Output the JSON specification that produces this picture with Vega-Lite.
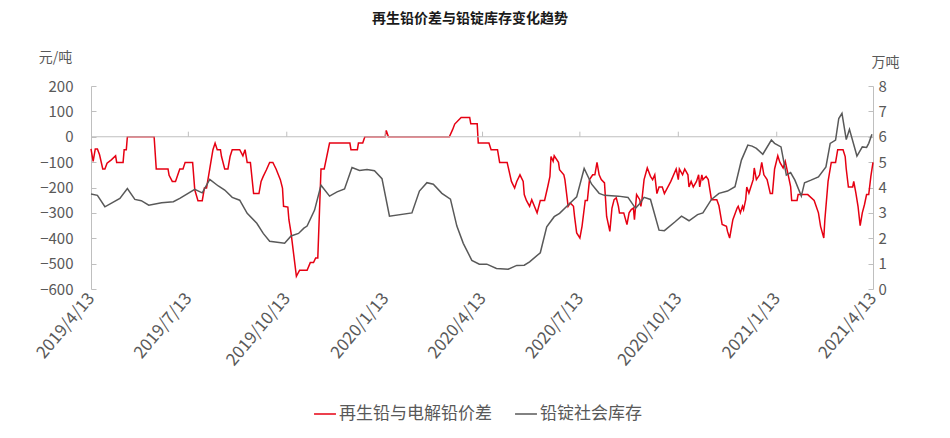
{
  "$schema": "https://vega.github.io/schema/vega-lite/v6.json",
  "autosize": "none",
  "width": 782,
  "height": 203,
  "padding": {"left": 91, "top": 86, "right": 77, "bottom": 149},
  "background": "white",
  "config": {
    "font": "Noto Sans CJK SC",
    "view": {"stroke": null},
    "axis": {"labelColor": "#595959", "titleColor": "#595959", "labelFont": "Noto Sans CJK SC", "titleFont": "Noto Sans CJK SC", "grid": false},
    "axisY": {"labelOverlap": false}
  },
  "title": {"text": "再生铅价差与铅锭库存变化趋势", "anchor": "middle", "fontSize": 14, "fontWeight": "bold", "color": "#1a1a1a", "offset": 24, "dx": -12},
  "datasets": {
    "spread": [
      {"date": "2019/4/13", "value": -48}, {"date": "2019/4/15", "value": -97}, {"date": "2019/4/17", "value": -48}, {"date": "2019/4/19", "value": -48},
      {"date": "2019/4/21", "value": -71}, {"date": "2019/4/24", "value": -127}, {"date": "2019/4/26", "value": -127}, {"date": "2019/4/28", "value": -104},
      {"date": "2019/5/2", "value": -91}, {"date": "2019/5/6", "value": -75}, {"date": "2019/5/7", "value": -101}, {"date": "2019/5/13", "value": -101},
      {"date": "2019/5/14", "value": -51}, {"date": "2019/5/16", "value": -51}, {"date": "2019/5/17", "value": 0}, {"date": "2019/6/11", "value": 0},
      {"date": "2019/6/13", "value": -127}, {"date": "2019/6/24", "value": -127}, {"date": "2019/6/25", "value": -152}, {"date": "2019/6/28", "value": -176},
      {"date": "2019/7/1", "value": -176}, {"date": "2019/7/3", "value": -152}, {"date": "2019/7/5", "value": -127}, {"date": "2019/7/8", "value": -127},
      {"date": "2019/7/10", "value": -101}, {"date": "2019/7/17", "value": -101}, {"date": "2019/7/19", "value": -209}, {"date": "2019/7/22", "value": -252},
      {"date": "2019/7/26", "value": -252}, {"date": "2019/7/28", "value": -202}, {"date": "2019/7/30", "value": -202}, {"date": "2019/8/2", "value": -127},
      {"date": "2019/8/3", "value": -101}, {"date": "2019/8/5", "value": -51}, {"date": "2019/8/7", "value": -25}, {"date": "2019/8/9", "value": -51},
      {"date": "2019/8/12", "value": -51}, {"date": "2019/8/13", "value": -78}, {"date": "2019/8/16", "value": -127}, {"date": "2019/8/19", "value": -127},
      {"date": "2019/8/21", "value": -78}, {"date": "2019/8/23", "value": -51}, {"date": "2019/8/30", "value": -51}, {"date": "2019/9/2", "value": -75},
      {"date": "2019/9/4", "value": -51}, {"date": "2019/9/6", "value": -101}, {"date": "2019/9/9", "value": -101}, {"date": "2019/9/12", "value": -224},
      {"date": "2019/9/17", "value": -224}, {"date": "2019/9/19", "value": -176}, {"date": "2019/9/21", "value": -156}, {"date": "2019/9/24", "value": -130},
      {"date": "2019/9/27", "value": -101}, {"date": "2019/9/30", "value": -101}, {"date": "2019/10/3", "value": -127}, {"date": "2019/10/7", "value": -169},
      {"date": "2019/10/9", "value": -202}, {"date": "2019/10/10", "value": -274}, {"date": "2019/10/14", "value": -277}, {"date": "2019/10/15", "value": -327},
      {"date": "2019/10/17", "value": -379}, {"date": "2019/10/22", "value": -550}, {"date": "2019/10/25", "value": -526}, {"date": "2019/11/1", "value": -526},
      {"date": "2019/11/4", "value": -496}, {"date": "2019/11/7", "value": -496}, {"date": "2019/11/9", "value": -478}, {"date": "2019/11/11", "value": -478},
      {"date": "2019/11/14", "value": -127}, {"date": "2019/11/17", "value": -127}, {"date": "2019/11/22", "value": -25}, {"date": "2019/12/11", "value": -25},
      {"date": "2019/12/12", "value": -51}, {"date": "2019/12/18", "value": -51}, {"date": "2019/12/19", "value": -25}, {"date": "2019/12/23", "value": -25},
      {"date": "2019/12/25", "value": 0}, {"date": "2020/1/13", "value": 0}, {"date": "2020/1/14", "value": 25}, {"date": "2020/1/16", "value": 0},
      {"date": "2020/3/13", "value": 0}, {"date": "2020/3/16", "value": 28}, {"date": "2020/3/18", "value": 50}, {"date": "2020/3/24", "value": 76},
      {"date": "2020/4/1", "value": 76}, {"date": "2020/4/2", "value": 51}, {"date": "2020/4/8", "value": 51}, {"date": "2020/4/9", "value": -25},
      {"date": "2020/4/19", "value": -25}, {"date": "2020/4/21", "value": -51}, {"date": "2020/4/27", "value": -51}, {"date": "2020/4/29", "value": -101},
      {"date": "2020/5/6", "value": -101}, {"date": "2020/5/10", "value": -176}, {"date": "2020/5/13", "value": -202}, {"date": "2020/5/15", "value": -176},
      {"date": "2020/5/18", "value": -150}, {"date": "2020/5/21", "value": -176}, {"date": "2020/5/22", "value": -228}, {"date": "2020/5/24", "value": -251},
      {"date": "2020/5/27", "value": -274}, {"date": "2020/5/29", "value": -248}, {"date": "2020/6/3", "value": -300}, {"date": "2020/6/6", "value": -251},
      {"date": "2020/6/10", "value": -251}, {"date": "2020/6/13", "value": -196}, {"date": "2020/6/15", "value": -156}, {"date": "2020/6/16", "value": -78},
      {"date": "2020/6/18", "value": -97}, {"date": "2020/6/19", "value": -75}, {"date": "2020/6/23", "value": -101}, {"date": "2020/6/24", "value": -130},
      {"date": "2020/6/28", "value": -150}, {"date": "2020/6/29", "value": -169}, {"date": "2020/7/2", "value": -274}, {"date": "2020/7/4", "value": -261},
      {"date": "2020/7/7", "value": -274}, {"date": "2020/7/8", "value": -314}, {"date": "2020/7/10", "value": -379}, {"date": "2020/7/13", "value": -399},
      {"date": "2020/7/15", "value": -353}, {"date": "2020/7/18", "value": -251}, {"date": "2020/7/20", "value": -251}, {"date": "2020/7/22", "value": -169},
      {"date": "2020/7/25", "value": -150}, {"date": "2020/7/27", "value": -150}, {"date": "2020/7/29", "value": -101}, {"date": "2020/7/31", "value": -150},
      {"date": "2020/8/2", "value": -169}, {"date": "2020/8/5", "value": -182}, {"date": "2020/8/7", "value": -314}, {"date": "2020/8/10", "value": -373},
      {"date": "2020/8/12", "value": -281}, {"date": "2020/8/14", "value": -248}, {"date": "2020/8/16", "value": -241}, {"date": "2020/8/18", "value": -274},
      {"date": "2020/8/19", "value": -300}, {"date": "2020/8/23", "value": -300}, {"date": "2020/8/26", "value": -346}, {"date": "2020/8/28", "value": -300},
      {"date": "2020/8/30", "value": -287}, {"date": "2020/9/1", "value": -281}, {"date": "2020/9/2", "value": -327}, {"date": "2020/9/4", "value": -228},
      {"date": "2020/9/7", "value": -248}, {"date": "2020/9/8", "value": -274}, {"date": "2020/9/9", "value": -248}, {"date": "2020/9/11", "value": -169},
      {"date": "2020/9/14", "value": -123}, {"date": "2020/9/17", "value": -156}, {"date": "2020/9/19", "value": -169}, {"date": "2020/9/21", "value": -150},
      {"date": "2020/9/23", "value": -224}, {"date": "2020/9/25", "value": -198}, {"date": "2020/9/28", "value": -198}, {"date": "2020/9/30", "value": -224},
      {"date": "2020/10/6", "value": -176}, {"date": "2020/10/11", "value": -127}, {"date": "2020/10/13", "value": -169}, {"date": "2020/10/14", "value": -127},
      {"date": "2020/10/17", "value": -150}, {"date": "2020/10/19", "value": -127}, {"date": "2020/10/22", "value": -150}, {"date": "2020/10/23", "value": -198},
      {"date": "2020/10/25", "value": -176}, {"date": "2020/10/27", "value": -198}, {"date": "2020/10/30", "value": -176}, {"date": "2020/11/1", "value": -150},
      {"date": "2020/11/2", "value": -198}, {"date": "2020/11/4", "value": -150}, {"date": "2020/11/5", "value": -169}, {"date": "2020/11/8", "value": -156},
      {"date": "2020/11/10", "value": -169}, {"date": "2020/11/13", "value": -248}, {"date": "2020/11/18", "value": -248}, {"date": "2020/11/20", "value": -272},
      {"date": "2020/11/23", "value": -346}, {"date": "2020/11/27", "value": -353}, {"date": "2020/11/28", "value": -373}, {"date": "2020/11/30", "value": -399},
      {"date": "2020/12/3", "value": -327}, {"date": "2020/12/7", "value": -281}, {"date": "2020/12/8", "value": -274}, {"date": "2020/12/10", "value": -300},
      {"date": "2020/12/12", "value": -274}, {"date": "2020/12/13", "value": -287}, {"date": "2020/12/15", "value": -248}, {"date": "2020/12/16", "value": -198},
      {"date": "2020/12/18", "value": -222}, {"date": "2020/12/22", "value": -169}, {"date": "2020/12/23", "value": -123}, {"date": "2020/12/25", "value": -169},
      {"date": "2020/12/28", "value": -150}, {"date": "2020/12/30", "value": -101}, {"date": "2021/1/1", "value": -150}, {"date": "2021/1/4", "value": -169},
      {"date": "2021/1/7", "value": -224}, {"date": "2021/1/9", "value": -224}, {"date": "2021/1/11", "value": -127}, {"date": "2021/1/14", "value": -75},
      {"date": "2021/1/16", "value": -101}, {"date": "2021/1/19", "value": -123}, {"date": "2021/1/21", "value": -97}, {"date": "2021/1/24", "value": -156},
      {"date": "2021/1/26", "value": -196}, {"date": "2021/1/27", "value": -251}, {"date": "2021/2/1", "value": -251}, {"date": "2021/2/2", "value": -228},
      {"date": "2021/2/11", "value": -228}, {"date": "2021/2/17", "value": -251}, {"date": "2021/2/21", "value": -300}, {"date": "2021/2/23", "value": -353},
      {"date": "2021/2/26", "value": -399}, {"date": "2021/2/27", "value": -327}, {"date": "2021/3/2", "value": -176}, {"date": "2021/3/5", "value": -101},
      {"date": "2021/3/9", "value": -101}, {"date": "2021/3/11", "value": -51}, {"date": "2021/3/16", "value": -51}, {"date": "2021/3/18", "value": -78},
      {"date": "2021/3/19", "value": -127}, {"date": "2021/3/21", "value": -198}, {"date": "2021/3/25", "value": -198}, {"date": "2021/3/26", "value": -176},
      {"date": "2021/3/28", "value": -222}, {"date": "2021/3/30", "value": -274}, {"date": "2021/4/1", "value": -350}, {"date": "2021/4/3", "value": -300},
      {"date": "2021/4/5", "value": -268}, {"date": "2021/4/7", "value": -228}, {"date": "2021/4/9", "value": -228}, {"date": "2021/4/11", "value": -156},
      {"date": "2021/4/13", "value": -101}
    ],
    "stock": [
      {"date": "2019/4/13", "value": 3.74}, {"date": "2019/4/19", "value": 3.69}, {"date": "2019/4/26", "value": 3.24}, {"date": "2019/5/10", "value": 3.57},
      {"date": "2019/5/17", "value": 3.96}, {"date": "2019/5/24", "value": 3.53}, {"date": "2019/5/30", "value": 3.48}, {"date": "2019/6/6", "value": 3.30},
      {"date": "2019/6/18", "value": 3.40}, {"date": "2019/6/29", "value": 3.44}, {"date": "2019/7/5", "value": 3.57}, {"date": "2019/7/19", "value": 3.93},
      {"date": "2019/7/24", "value": 3.83}, {"date": "2019/7/26", "value": 3.79}, {"date": "2019/8/2", "value": 4.32}, {"date": "2019/8/10", "value": 4.06},
      {"date": "2019/8/16", "value": 3.90}, {"date": "2019/8/23", "value": 3.61}, {"date": "2019/8/30", "value": 3.50}, {"date": "2019/9/6", "value": 2.98},
      {"date": "2019/9/15", "value": 2.59}, {"date": "2019/9/21", "value": 2.19}, {"date": "2019/9/27", "value": 1.88}, {"date": "2019/10/11", "value": 1.80},
      {"date": "2019/10/17", "value": 2.09}, {"date": "2019/10/24", "value": 2.19}, {"date": "2019/10/29", "value": 2.40}, {"date": "2019/11/1", "value": 2.48},
      {"date": "2019/11/8", "value": 3.11}, {"date": "2019/11/14", "value": 4.09}, {"date": "2019/11/22", "value": 3.66}, {"date": "2019/11/29", "value": 3.83},
      {"date": "2019/12/6", "value": 3.94}, {"date": "2019/12/13", "value": 4.79}, {"date": "2019/12/20", "value": 4.67}, {"date": "2019/12/27", "value": 4.71},
      {"date": "2020/1/3", "value": 4.66}, {"date": "2020/1/10", "value": 4.35}, {"date": "2020/1/17", "value": 2.87}, {"date": "2020/2/7", "value": 3.00},
      {"date": "2020/2/14", "value": 3.86}, {"date": "2020/2/21", "value": 4.19}, {"date": "2020/2/27", "value": 4.13}, {"date": "2020/3/6", "value": 3.77},
      {"date": "2020/3/14", "value": 3.54}, {"date": "2020/3/20", "value": 2.48}, {"date": "2020/3/26", "value": 1.80}, {"date": "2020/4/3", "value": 1.13},
      {"date": "2020/4/10", "value": 0.98}, {"date": "2020/4/17", "value": 0.98}, {"date": "2020/4/26", "value": 0.81}, {"date": "2020/5/7", "value": 0.78},
      {"date": "2020/5/15", "value": 0.93}, {"date": "2020/5/22", "value": 0.94}, {"date": "2020/5/27", "value": 1.07}, {"date": "2020/6/6", "value": 1.43},
      {"date": "2020/6/12", "value": 2.45}, {"date": "2020/6/19", "value": 2.85}, {"date": "2020/6/24", "value": 2.98}, {"date": "2020/7/2", "value": 3.31},
      {"date": "2020/7/10", "value": 3.63}, {"date": "2020/7/17", "value": 4.75}, {"date": "2020/7/24", "value": 4.13}, {"date": "2020/7/31", "value": 3.77},
      {"date": "2020/8/5", "value": 3.69}, {"date": "2020/8/18", "value": 3.66}, {"date": "2020/8/27", "value": 3.61}, {"date": "2020/9/3", "value": 3.18},
      {"date": "2020/9/7", "value": 3.37}, {"date": "2020/9/11", "value": 3.61}, {"date": "2020/9/17", "value": 3.53}, {"date": "2020/9/25", "value": 2.32},
      {"date": "2020/9/30", "value": 2.30}, {"date": "2020/10/10", "value": 2.65}, {"date": "2020/10/16", "value": 2.87}, {"date": "2020/10/23", "value": 2.69},
      {"date": "2020/10/31", "value": 2.93}, {"date": "2020/11/5", "value": 3.00}, {"date": "2020/11/13", "value": 3.53}, {"date": "2020/11/20", "value": 3.77},
      {"date": "2020/11/28", "value": 3.86}, {"date": "2020/12/5", "value": 4.03}, {"date": "2020/12/11", "value": 5.08}, {"date": "2020/12/17", "value": 5.67},
      {"date": "2020/12/21", "value": 5.63}, {"date": "2020/12/25", "value": 5.54}, {"date": "2020/12/31", "value": 5.31}, {"date": "2021/1/8", "value": 5.87},
      {"date": "2021/1/11", "value": 5.74}, {"date": "2021/1/17", "value": 5.60}, {"date": "2021/1/22", "value": 4.49}, {"date": "2021/1/26", "value": 4.59},
      {"date": "2021/1/30", "value": 4.29}, {"date": "2021/2/5", "value": 3.66}, {"date": "2021/2/8", "value": 4.19}, {"date": "2021/2/14", "value": 4.29},
      {"date": "2021/2/21", "value": 4.42}, {"date": "2021/2/28", "value": 4.81}, {"date": "2021/3/4", "value": 5.74}, {"date": "2021/3/9", "value": 5.87},
      {"date": "2021/3/12", "value": 6.72}, {"date": "2021/3/15", "value": 6.92}, {"date": "2021/3/19", "value": 5.89}, {"date": "2021/3/22", "value": 6.29},
      {"date": "2021/3/29", "value": 5.24}, {"date": "2021/4/3", "value": 5.60}, {"date": "2021/4/7", "value": 5.58}, {"date": "2021/4/9", "value": 5.74},
      {"date": "2021/4/12", "value": 6.10}
    ],
    "quarters": [
      {"date": "2019/7/13"}, {"date": "2019/10/13"}, {"date": "2020/1/13"}, {"date": "2020/4/13"},
      {"date": "2020/7/13"}, {"date": "2020/10/13"}, {"date": "2021/1/13"}
    ]
  },
  "encoding": {
    "x": {
      "field": "date", "type": "temporal",
      "scale": {"domain": [{"year": 2019, "month": 4, "date": 13}, {"year": 2021, "month": 4, "date": 13}]},
      "axis": {
        "title": null, "domain": false, "ticks": false, "labelFontSize": 17, "labelAngle": -50, "labelAlign": "right", "labelBaseline": "middle", "labelPadding": 6,
        "format": "%Y/%-m/%-d", "labelOverlap": false, "labelBound": false, "labelFlush": false,
        "values": [
          {"year": 2019, "month": 4, "date": 13}, {"year": 2019, "month": 7, "date": 13}, {"year": 2019, "month": 10, "date": 13},
          {"year": 2020, "month": 1, "date": 13}, {"year": 2020, "month": 4, "date": 13}, {"year": 2020, "month": 7, "date": 13},
          {"year": 2020, "month": 10, "date": 13}, {"year": 2021, "month": 1, "date": 13}, {"year": 2021, "month": 4, "date": 13}
        ]
      }
    }
  },
  "layer": [
    {
      "layer": [
        {
          "data": {"name": "spread"},
          "mark": {"type": "line", "strokeWidth": 1.5, "interpolate": "linear"},
          "encoding": {
            "y": {"field": "value", "type": "quantitative",
              "scale": {"domain": [-600, 200], "nice": false, "zero": false},
              "axis": {"orient": "left", "values": [-600, -500, -400, -300, -200, -100, 0, 100, 200], "tickCount": 9, "labelOverlap": false, "labelFontSize": 15, "domainColor": "#bfbfbf", "tickColor": "#bfbfbf", "tickSize": -5, "labelPadding": 23,
                "title": "元/吨", "titleAngle": 0, "titleFontSize": 14, "titleFontWeight": "normal", "titleX": -36, "titleY": -29, "titleAlign": "center", "titleBaseline": "middle"}},
            "color": {"datum": "再生铅与电解铅价差", "type": "nominal",
              "scale": {"domain": ["再生铅与电解铅价差", "铅锭社会库存"], "range": ["#e60012", "#595959"]},
              "legend": {"title": null, "orient": "none", "direction": "horizontal", "legendX": 222, "legendY": 316, "symbolType": "stroke", "symbolSize": 480, "symbolStrokeWidth": 1.5, "labelFontSize": 17, "labelColor": "#595959", "columnPadding": 20, "symbolOffset": 0, "labelOffset": 2}}
          }
        },
        {
          "data": {"name": "quarters"},
          "mark": {"type": "rule", "color": "#bfbfbf", "strokeWidth": 1},
          "encoding": {"y": {"datum": 0, "type": "quantitative"}, "y2": {"datum": 20}}
        },
        {
          "data": {"values": [{}]},
          "mark": {"type": "rule", "color": "#bfbfbf", "strokeWidth": 1},
          "encoding": {"y": {"datum": 0, "type": "quantitative"}, "x": {"value": 0}, "x2": {"value": 782}}
        }
      ]
    },
    {
      "data": {"name": "stock"},
      "mark": {"type": "line", "strokeWidth": 1.5},
      "encoding": {
        "y": {"field": "value", "type": "quantitative",
          "scale": {"domain": [0, 8], "nice": false},
          "axis": {"orient": "right", "values": [0, 1, 2, 3, 4, 5, 6, 7, 8], "labelOverlap": false, "labelFontSize": 15, "domainColor": "#bfbfbf", "tickColor": "#bfbfbf", "tickSize": -5, "labelPadding": 10,
            "title": "万吨", "titleAngle": 0, "titleFontSize": 14, "titleFontWeight": "normal", "titleX": 12, "titleY": -24, "titleAlign": "center", "titleBaseline": "middle"}},
        "color": {"datum": "铅锭社会库存", "type": "nominal"}
      }
    }
  ],
  "resolve": {"scale": {"y": "independent"}}
}
